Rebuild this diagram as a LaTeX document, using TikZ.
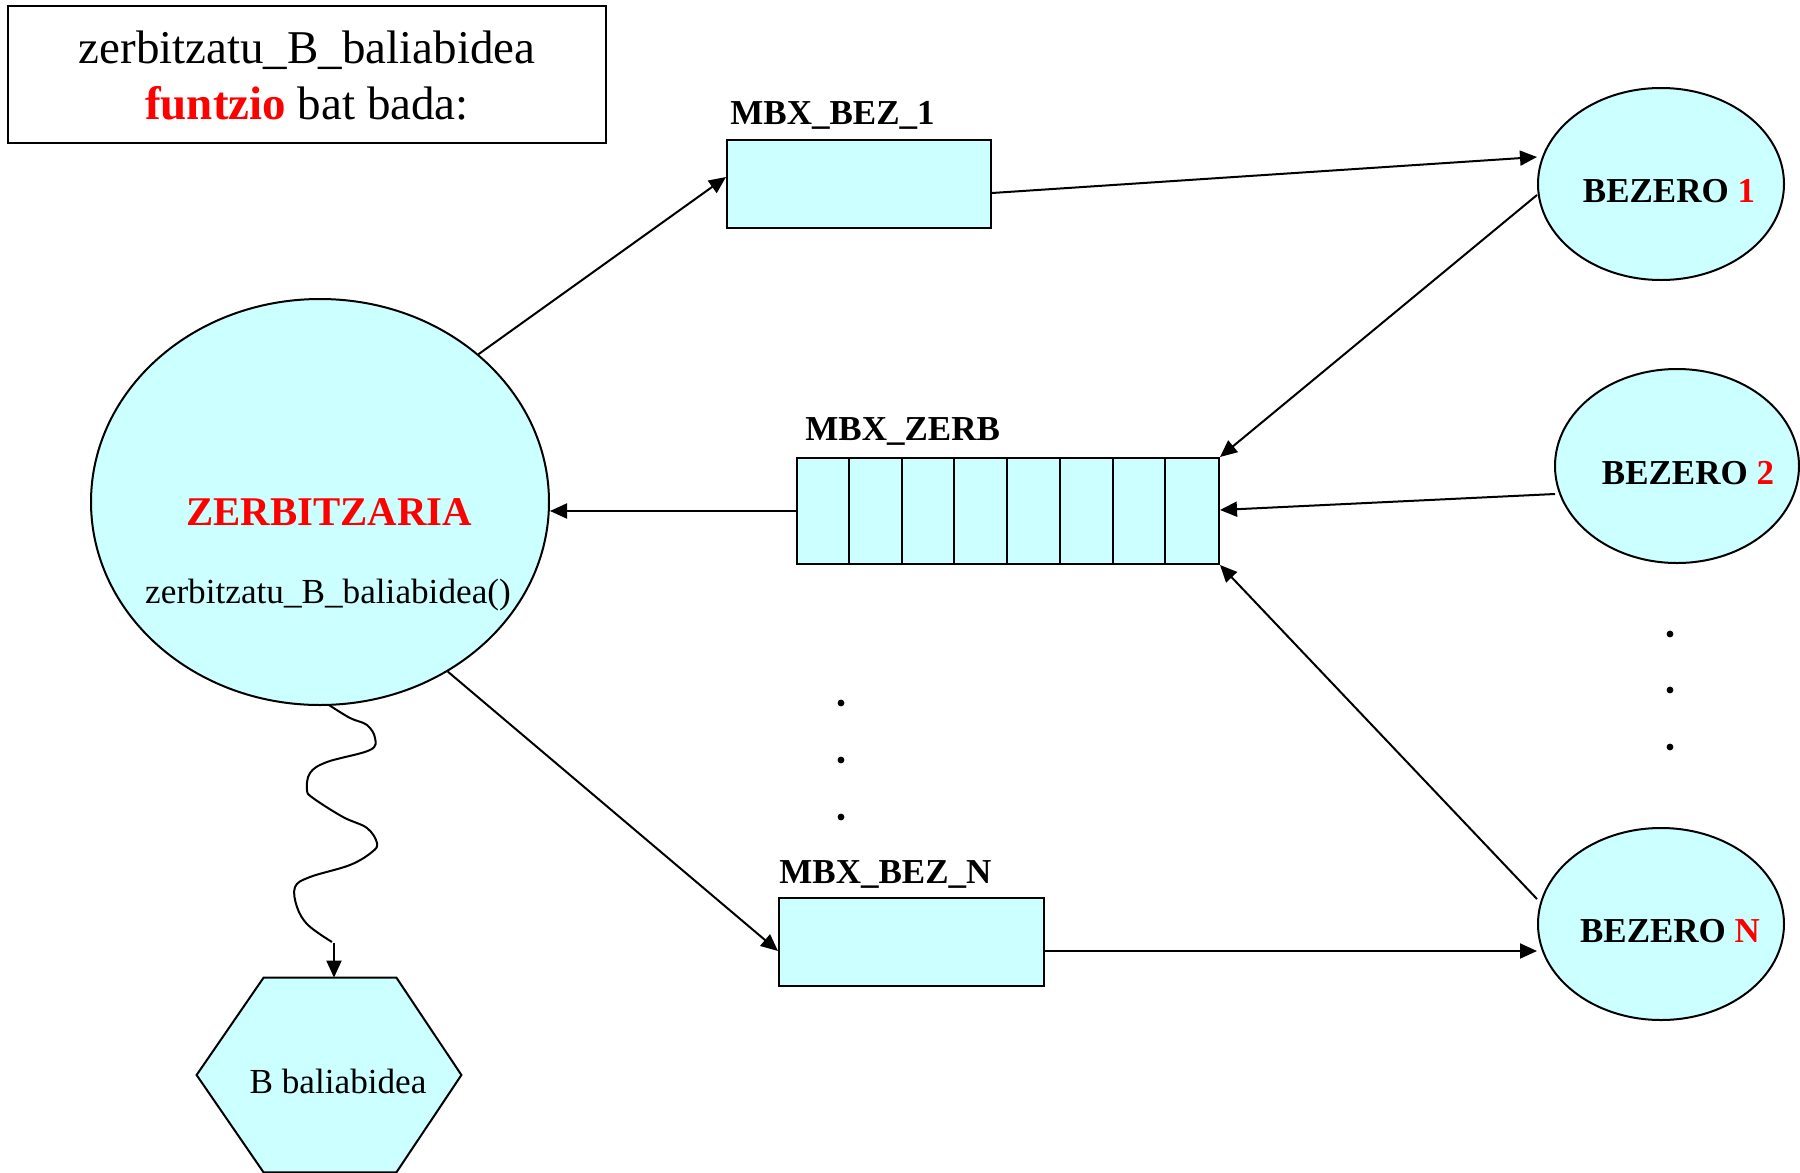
\documentclass[tikz,border=0pt]{standalone}
\usepackage{fontspec}
\setmainfont{Liberation Serif}
\usetikzlibrary{arrows.meta,shapes.geometric,calc}
\definecolor{boxfill}{HTML}{CCFFFF}
\definecolor{hred}{HTML}{FF0000}
\begin{document}
\begin{tikzpicture}[x=0.5pt,y=-0.5pt,
  line/.style={line width=1pt},
  arr/.style={line,-{Triangle[length=8.5pt,width=7.5pt]}},
  shaded/.style={line,draw=black,fill=boxfill,inner sep=0pt},
  mbox/.style={shaded,rectangle},
  proc/.style={shaded,ellipse},
  lbl/.style={inner sep=0pt,font=\fontsize{17.5}{21}\selectfont\bfseries},
  txt/.style={inner sep=0pt,font=\fontsize{17.6}{21}\selectfont},
  big/.style={inner sep=0pt,font=\fontsize{23.5}{28}\selectfont},
]
\useasboundingbox (0,0) rectangle (1800,1173);

% title box
\node[draw,line width=1.4pt,minimum width=299pt,minimum height=68.5pt,inner sep=0pt] (title) at (307,74.5) {};
\node[big,anchor=base] (t1) at (307,63) {zerbitzatu\_B\_baliabidea};
\node[big,anchor=base] (t2) at (307,119) {\textcolor{hred}{\bfseries funtzio} bat bada:};

% server
\node[proc,minimum width=229pt,minimum height=203pt] (z) at (320,502) {};
\node[inner sep=0pt,anchor=base,font=\fontsize{20.4}{24}\selectfont\bfseries,text=hred] (zname) at (329,525) {ZERBITZARIA};
\node[txt,anchor=base] (zfun) at (328,603) {zerbitzatu\_B\_baliabidea()};

% clients
\node[proc,minimum width=123pt,minimum height=96pt] (c1) at (1661,184) {};
\node[lbl,anchor=base] (c1l) at (1669,202) {BEZERO \textcolor{hred}{1}};
\node[proc,minimum width=122pt,minimum height=97pt] (c2) at (1677,466) {};
\node[lbl,anchor=base] (c2l) at (1688,484) {BEZERO \textcolor{hred}{2}};
\node[proc,minimum width=123pt,minimum height=96pt] (c3) at (1661,924) {};
\node[lbl,anchor=base] (c3l) at (1670,942) {BEZERO \textcolor{hred}{N}};

% mailboxes
\node[mbox,minimum width=132pt,minimum height=44pt] (b1) at (859,184) {};
\node[lbl,anchor=base west] (b1l) at (730,124) {MBX\_BEZ\_1};
\node[mbox,minimum width=211pt,minimum height=53pt] (zerb) at (1008,511) {};
\node[lbl,anchor=base west] (zerbl) at (805,440) {MBX\_ZERB};
\foreach \k in {1,...,7}
  \draw[line] ($(zerb.north west)+(\k*52.75,0)$) -- ($(zerb.south west)+(\k*52.75,0)$);
\node[mbox,minimum width=132.5pt,minimum height=44pt] (bn) at (911.5,942) {};
\node[lbl,anchor=base west] (bnl) at (779,883) {MBX\_BEZ\_N};

% resource
\node[minimum width=132pt,minimum height=97pt,inner sep=0pt] (hex) at (329,1075) {};
\filldraw[line,fill=boxfill]
  ($(hex.north west)+(67,0)$) -- ($(hex.north east)+(-65,0)$) -- (hex.east)
  -- ($(hex.south east)+(-65,0)$) -- ($(hex.south west)+(67,0)$) -- (hex.west) -- cycle;
\node[txt,anchor=base] (hexl) at (338,1093) {B baliabidea};

% ellipsis dots
\foreach \y in {703,760,817} \fill (841,\y) circle[radius=1.7pt];
\foreach \y in {634,690,747} \fill (1670,\y) circle[radius=1.7pt];

% messages
\draw[arr] (z.43) -- ($(b1.west)+(0,-7)$);
\draw[arr] ($(b1.east)+(0,9)$) -- ($(c1.west)+(0,-27)$);
\draw[arr] ($(c1.west)+(0,11)$) -- (zerb.north east);
\draw[arr] ($(c2.west)+(1,28)$) -- ($(zerb.east)+(0,-1)$);
\draw[arr] ($(c3.west)+(0,-25)$) -- (zerb.south east);
\draw[arr] (zerb.west) -- (zerb.west -| z.east);
\draw[arr] (z.-53.4) -- ($(bn.west)+(0,9)$);
\draw[arr] ($(bn.east)+(0,9)$) -- ($(c3.west)+(0,27)$);

% access to the resource
\coordinate (w0) at ($(z.south)+(9,0)$);
\draw[line] (w0) -- (w0) plot[smooth,tension=0.6] coordinates {
  (329,705) (350,718) (367,725) (375,738) (370,750) (327,762) (310,773)
  (307,790) (313,798) (343,817) (367,828) (377,843) (372,852) (350,865)
  (310,877) (295,887) (297,907) (308,925) (332,942)};
\draw[arr] ($(hex.north)+(5,-35)$) -- ($(hex.north)+(5,0)$);
\end{tikzpicture}
\end{document}
